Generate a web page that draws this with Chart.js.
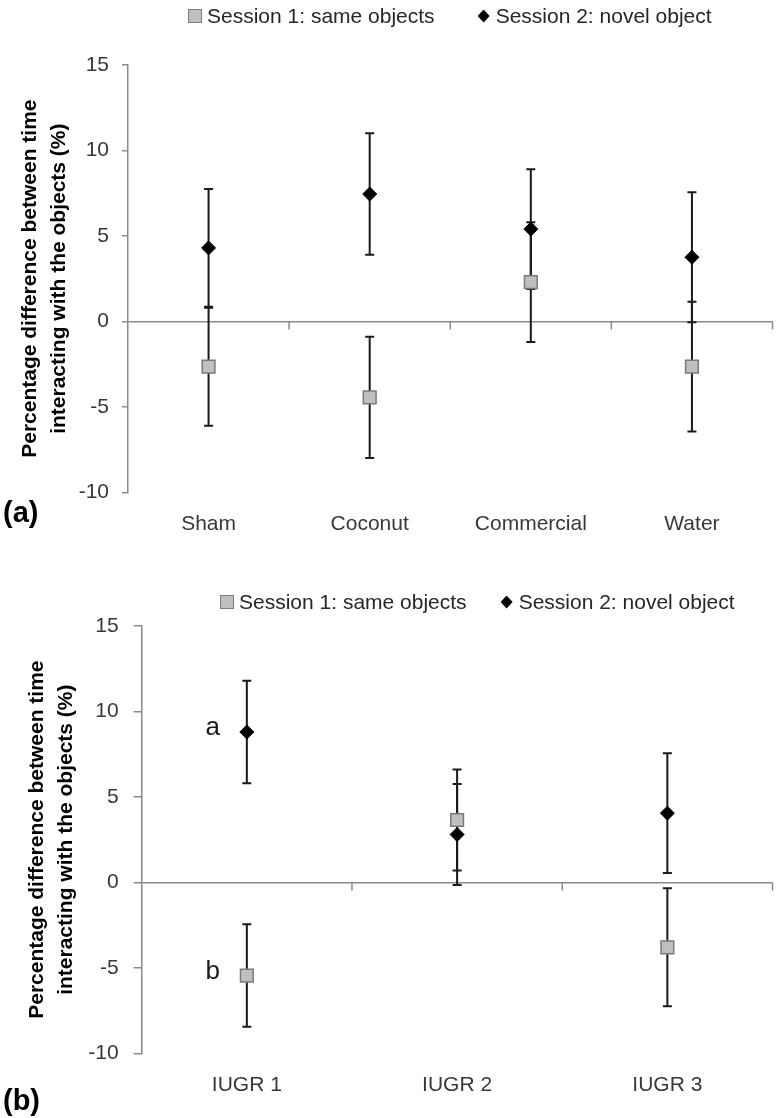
<!DOCTYPE html>
<html>
<head>
<meta charset="utf-8">
<script src="https://cdn.jsdelivr.net/npm/chart.js@4.4.1/dist/chart.umd.min.js"></script>
<style>
    html, body { margin: 0; padding: 0; background: #fff; }
    body { position: relative; width: 783px; height: 1118px; overflow: hidden; font-family: "Liberation Sans", Arial, sans-serif; }
    canvas { position: absolute; left: 0; }
    #chartA { top: 0; }
    #chartB { top: 560px; }
    .legend { position: absolute; display: flex; align-items: center; font-size: 21px; line-height: 24px; color: #262626; white-space: nowrap; }
    .legend .item { display: flex; align-items: center; }
    .mark-square { width: 12px; height: 12px; background: #bfbfbf; border: 1px solid #7f7f7f; margin-right: 5px; }
    .mark-diamond { width: 12px; height: 13px; background: #000; clip-path: polygon(50% 0, 100% 50%, 50% 100%, 0 50%); margin-right: 6px; }
    .panel { position: absolute; left: 3px; font-weight: bold; font-size: 29px; line-height: 32px; color: #000; }
</style>
</head>
<body>
<canvas id="chartA" width="783" height="555"></canvas>
<canvas id="chartB" width="783" height="558"></canvas>
<div class="legend" id="legendA" style="left:188px; top:4px; gap:43px;"></div>
<div class="legend" id="legendB" style="left:220px; top:590px; gap:34px;"></div>
<div class="panel" style="top:496px;">(a)</div>
<div class="panel" style="top:1084px;">(b)</div>
<script>
// data
var seriesNames = ['Session 1: same objects', 'Session 2: novel object'];
var yTicks = [-10, -5, 0, 5, 10, 15];

var labelsA = ['Sham', 'Coconut', 'Commercial', 'Water'];
var sameA = [-2.65, -4.45, 2.3, -2.65];
var sameErrA = [3.45, 3.55, 3.5, 3.8];
var novelA = [4.3, 7.45, 5.4, 3.75];
var novelErrA = [3.45, 3.55, 3.5, 3.8];

var labelsB = ['IUGR 1', 'IUGR 2', 'IUGR 3'];
var sameB = [-5.45, 3.65, -3.8];
var sameErrB = [3.0, 2.95, 3.45];
var novelB = [8.8, 2.8, 4.05];
var novelErrB = [3.0, 2.95, 3.5];

// significance letters next to points (series index, category index)
var lettersB = [
    { text: 'a', series: 1, index: 0 },
    { text: 'b', series: 0, index: 0 }
];

var fontFamily = '"Liberation Sans", Arial, sans-serif';
var axisColor = '#8a8a8a';
var tickTextColor = '#383838';
var yTitle = ['Percentage difference between time', 'interacting with the objects (%)'];

// error bars (drawn under the markers)
var errorBarPlugin = {
    id: 'errorBars',
    beforeDatasetsDraw: function(chart) {
        var ctx = chart.ctx;
        var yScale = chart.scales.y;
        ctx.save();
        ctx.strokeStyle = '#1a1a1a';
        ctx.lineWidth = 2;
        chart.data.datasets.forEach(function(ds, i) {
            var meta = chart.getDatasetMeta(i);
            meta.data.forEach(function(pt, j) {
                var hi = yScale.getPixelForValue(ds.data[j] + ds.errors[j]);
                var lo = yScale.getPixelForValue(ds.data[j] - ds.errors[j]);
                ctx.beginPath();
                ctx.moveTo(pt.x, hi);
                ctx.lineTo(pt.x, lo);
                ctx.moveTo(pt.x - 4.5, hi);
                ctx.lineTo(pt.x + 4.5, hi);
                ctx.moveTo(pt.x - 4.5, lo);
                ctx.lineTo(pt.x + 4.5, lo);
                ctx.stroke();
            });
        });
        ctx.restore();
    }
};

// tick marks on the zero line between categories
var zeroTicksPlugin = {
    id: 'zeroTicks',
    afterDraw: function(chart) {
        var ctx = chart.ctx;
        var xScale = chart.scales.x;
        var y0 = chart.scales.y.getPixelForValue(0);
        ctx.save();
        ctx.strokeStyle = axisColor;
        ctx.lineWidth = 1.5;
        ctx.beginPath();
        for (var i = 1; i <= chart.data.labels.length; i++) {
            var x = xScale.getPixelForValue(i - 0.5);
            ctx.moveTo(x, y0);
            ctx.lineTo(x, y0 + 8);
        }
        ctx.stroke();
        ctx.restore();
    }
};

// letters 'a' / 'b'
var lettersPlugin = {
    id: 'letters',
    afterDatasetsDraw: function(chart, args, opts) {
        if (!opts.items) return;
        var ctx = chart.ctx;
        ctx.save();
        ctx.font = '26px ' + fontFamily;
        ctx.fillStyle = '#1a1a1a';
        ctx.textAlign = 'center';
        ctx.textBaseline = 'middle';
        opts.items.forEach(function(it) {
            var pt = chart.getDatasetMeta(it.series).data[it.index];
            ctx.fillText(it.text, pt.x - 34, pt.y - 4);
        });
        ctx.restore();
    }
};

function createChart(canvas, labels, same, sameErr, novel, novelErr, geo, letters) {
    return new Chart(canvas.getContext('2d'), {
        type: 'line',
        data: {
            labels: labels,
            datasets: [{
                label: seriesNames[0],
                data: same,
                errors: sameErr,
                showLine: false,
                pointStyle: 'rect',
                pointRadius: 9,
                pointBackgroundColor: '#bfbfbf',
                pointBorderColor: '#7a7a7a',
                pointBorderWidth: 1.5
            }, {
                label: seriesNames[1],
                data: novel,
                errors: novelErr,
                showLine: false,
                pointStyle: 'rectRot',
                pointRadius: 7,
                pointBackgroundColor: '#000',
                pointBorderColor: '#000',
                pointBorderWidth: 1
            }]
        },
        options: {
            responsive: false,
            animation: false,
            layout: {
                padding: { left: 0, top: geo.top, right: geo.right, bottom: geo.bottom }
            },
            scales: {
                x: {
                    offset: true,
                    grid: { display: false, drawTicks: false },
                    border: { display: false },
                    ticks: {
                        padding: 19,
                        color: tickTextColor,
                        font: { family: fontFamily, size: 21 }
                    },
                    afterFit: function(scale) { scale.height = 40; }
                },
                y: {
                    min: -10,
                    max: 15,
                    afterBuildTicks: function(scale) {
                        scale.ticks = yTicks.map(function(v) { return { value: v }; });
                    },
                    ticks: {
                        padding: geo.tickPad,
                        color: tickTextColor,
                        font: { family: fontFamily, size: 21 }
                    },
                    grid: {
                        color: function(c) { return c.tick && c.tick.value === 0 ? axisColor : 'rgba(0,0,0,0)'; },
                        tickColor: axisColor,
                        tickLength: geo.tickLen,
                        lineWidth: 1.5
                    },
                    border: { color: axisColor, width: 1.5 },
                    title: {
                        display: true,
                        text: yTitle,
                        color: '#000',
                        font: { family: fontFamily, size: 21, weight: 'bold', lineHeight: 1.38 },
                        padding: { top: geo.titlePad, bottom: 0 }
                    },
                    afterFit: function(scale) { scale.width = geo.left; }
                }
            },
            plugins: {
                legend: { display: false },
                tooltip: { enabled: false },
                letters: { items: letters }
            }
        },
        plugins: [errorBarPlugin, zeroTicksPlugin, lettersPlugin]
    });
}

function buildLegend(el) {
    var marks = ['mark-square', 'mark-diamond'];
    seriesNames.forEach(function(name, i) {
        var item = document.createElement('div');
        item.className = 'item';
        var m = document.createElement('span');
        m.className = marks[i];
        var t = document.createElement('span');
        t.textContent = name;
        item.appendChild(m);
        item.appendChild(t);
        el.appendChild(item);
    });
}

var charts = [
    createChart(document.getElementById('chartA'), labelsA, sameA, sameErrA, novelA, novelErrA,
        { left: 128, top: 65, right: 8, bottom: 22.7, tickPad: 13, tickLen: 6, titlePad: 15.5 }, null),
    createChart(document.getElementById('chartB'), labelsB, sameB, sameErrB, novelB, novelErrB,
        { left: 141.7, top: 66, right: 10.3, bottom: 24.7, tickPad: 15, tickLen: 8, titlePad: 22.5 }, lettersB)
];

buildLegend(document.getElementById('legendA'));
buildLegend(document.getElementById('legendB'));
</script>
</body>
</html>
